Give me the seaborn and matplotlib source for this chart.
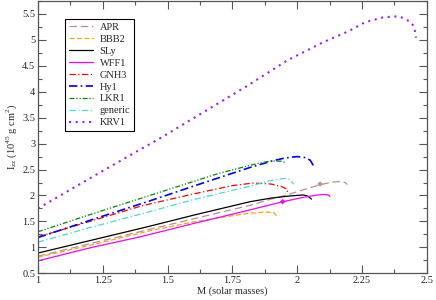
import numpy as np
import pandas as pd
import matplotlib
matplotlib.use("Agg")
import matplotlib.pyplot as plt
from matplotlib.ticker import MultipleLocator
import seaborn as sns

# --- data (M in solar masses, I_zz in 1e45 g cm^2) ---
apr_m = [1.0, 1.2, 1.425, 1.6, 1.818, 1.9, 1.96, 2.03, 2.09, 2.14, 2.165, 2.185, 2.193]
apr_i = [0.83, 1.07, 1.34, 1.55, 1.81, 1.93, 2.01, 2.12, 2.21, 2.26, 2.27, 2.25, 2.21]

bbb2_m = [1.0, 1.2, 1.432, 1.6, 1.75, 1.818, 1.88, 1.91, 1.92]
bbb2_i = [0.81, 1.04, 1.32, 1.49, 1.61, 1.66, 1.68, 1.67, 1.61]

sly_m = [1.0, 1.2, 1.425, 1.6, 1.818, 1.9, 1.97, 2.023, 2.04, 2.055]
sly_i = [0.89, 1.13, 1.40, 1.62, 1.88, 1.95, 1.99, 2.01, 1.99, 1.93]

wff1_m = [1.0, 1.2, 1.4, 1.6, 1.8, 1.944, 2.03, 2.08, 2.10, 2.12, 2.126]
wff1_i = [0.74, 0.99, 1.21, 1.46, 1.70, 1.88, 1.97, 2.01, 2.02, 2.01, 1.98]

gnh3_m = [1.0, 1.2, 1.4, 1.6, 1.75, 1.83, 1.9, 1.94, 1.962, 1.962]
gnh3_i = [1.20, 1.50, 1.80, 2.03, 2.19, 2.24, 2.22, 2.17, 2.12, 2.03]

hy1_m = [1.0, 1.2, 1.425, 1.6, 1.818, 1.9, 1.95, 2.0, 2.03, 2.05, 2.062]
hy1_i = [1.19, 1.52, 1.885, 2.18, 2.54, 2.66, 2.72, 2.75, 2.73, 2.68, 2.58]

lkr1_m = [1.0, 1.2, 1.425, 1.6, 1.7, 1.818, 1.85, 1.9, 1.94, 1.956]
lkr1_i = [1.30, 1.63, 1.99, 2.27, 2.43, 2.58, 2.62, 2.665, 2.66, 2.63]

generic_m = [1.0, 1.2, 1.425, 1.6, 1.818, 1.9, 1.953, 1.97, 1.987]
generic_i = [1.10, 1.38, 1.68, 1.92, 2.18, 2.29, 2.33, 2.31, 2.22]

krv1_m = [1.0, 1.2, 1.385, 1.467, 1.6, 1.8, 1.964, 2.099, 2.2, 2.262, 2.329,
          2.372, 2.395, 2.416, 2.435, 2.449, 2.455, 2.458]
krv1_i = [1.75, 2.33, 2.86, 3.09, 3.49, 4.09, 4.61, 4.95, 5.17, 5.34, 5.43,
          5.45, 5.45, 5.40, 5.35, 5.27, 5.15, 5.04]

# single highlighted points on APR and WFF1
mark_names = ["APR", "WFF1"]
mark_m = [2.088, 1.944]
mark_i = [2.22, 1.88]

curves = [
    ("APR", apr_m, apr_i, "#bc8f8f", (0, (6, 3)), 0.9),
    ("BBB2", bbb2_m, bbb2_i, "#ffa500", (0, (4, 2)), 0.9),
    ("SLy", sly_m, sly_i, "black", "-", 0.9),
    ("WFF1", wff1_m, wff1_i, "#ff00ff", "-", 0.9),
    ("GNH3", gnh3_m, gnh3_i, "red", (0, (5, 2, 1, 2)), 0.9),
    ("Hy1", hy1_m, hy1_i, "blue", (0, (5, 2, 1, 2)), 1.2),
    ("LKR1", lkr1_m, lkr1_i, "#008b00", (0, (4, 1.5, 1, 1.5, 1, 1.5)), 0.9),
    ("generic", generic_m, generic_i, "#40e0d0", (0, (5, 2, 1, 2)), 0.9),
    ("KRV1", krv1_m, krv1_i, "#a020f0", (0, (1, 2.2)), 1.5),
]
colors = {c[0]: c[3] for c in curves}

sns.set_style("ticks")
plt.rcParams["font.family"] = ["Liberation Serif", "DejaVu Serif"]
plt.rcParams["mathtext.fontset"] = "custom"
plt.rcParams["mathtext.rm"] = "Liberation Serif"

fig = plt.figure(figsize=(4.36, 3.0), dpi=100)
ax = fig.add_axes([0.087, 0.089, 0.892, 0.908])

for name, m, i, color, ls, lw in curves:
    df = pd.DataFrame({"M": m, "I": i})
    sns.lineplot(data=df, x="M", y="I", ax=ax, sort=False, color=color,
                 linestyle=ls, linewidth=lw, label=name, estimator=None)

marks = pd.DataFrame({"name": mark_names, "M": mark_m, "I": mark_i})
sns.scatterplot(data=marks, x="M", y="I", hue="name", palette=colors, ax=ax,
                marker="D", s=8, linewidth=0, legend=False)

ax.set_xlim(1, 2.5)
ax.set_ylim(0.5, 5.75)
ax.xaxis.set_major_locator(MultipleLocator(0.25))
ax.xaxis.set_minor_locator(MultipleLocator(0.125))
ax.yaxis.set_major_locator(MultipleLocator(0.5))
ax.yaxis.set_minor_locator(MultipleLocator(0.25))
ax.set_xticklabels([f"{v:g}" for v in ax.get_xticks()])
ax.set_yticklabels([f"{v:g}" for v in ax.get_yticks()])
ax.tick_params(which="both", direction="in", top=True, right=True,
               labelsize=7.5, color="#555555", pad=2)
ax.tick_params(which="major", length=6, width=0.8)
ax.tick_params(which="minor", length=3, width=0.8)
for sp in ax.spines.values():
    sp.set_color("#555555")
    sp.set_linewidth(0.9)

ax.set_xlabel("M (solar masses)", fontsize=7.5, labelpad=1)
ax.set_ylabel(r"I$_{\mathrm{zz}}$ (10$^{\mathrm{45}}$ g cm$^{\mathrm{2}}$)",
              fontsize=7.5, labelpad=2)

leg = ax.legend(loc="upper left", bbox_to_anchor=(0.07, 0.935), fontsize=7.5,
                frameon=True, fancybox=False, framealpha=1, borderpad=0.4,
                handlelength=2.3, handletextpad=0.6, labelspacing=0.25,
                borderaxespad=0)
leg.get_frame().set_edgecolor("black")
leg.get_frame().set_linewidth(0.8)

fig.savefig("out.png", dpi=100)
